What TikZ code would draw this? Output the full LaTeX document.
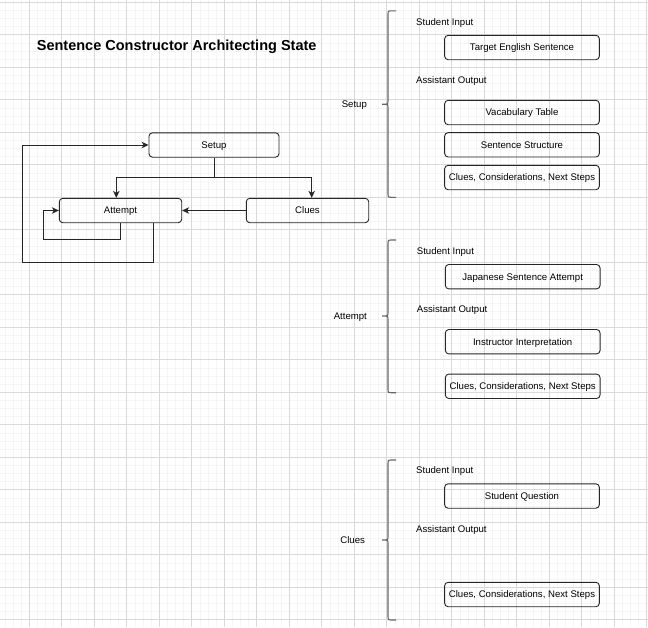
\documentclass[tikz,border=0pt]{standalone}
\usepackage{fontspec}
\setmainfont{Liberation Sans}
\usetikzlibrary{positioning,arrows.meta,calc}

\begin{document}
\begin{tikzpicture}[x=1pt,y=-1pt]

	\tikzset{minorgrid/.style={draw=black!4,line width=0.75pt}}
	\tikzset{majorgrid/.style={draw=black!15,line width=0.8pt}}
	\tikzset{statebox/.style={draw=black!85,rounded corners=3.5pt,line width=0.9pt,minimum width=122.4pt,minimum height=24.4pt,inner sep=0pt,font=\fontsize{9.6}{11}\selectfont,text height=6.9pt,text depth=0pt}}
	\tikzset{itembox/.style={statebox,minimum width=154.7pt}}
	\tikzset{labeltext/.style={inner sep=0pt,font=\fontsize{9.6}{11}\selectfont,text height=6.9pt,text depth=0pt}}
	\tikzset{flowedge/.style={-{Stealth[length=7pt,width=6.5pt,inset=2pt]},line width=1pt,draw=black!85}}
	\tikzset{bracestyle/.style={draw=black!60,line width=1.1pt}}

	\newcommand\drawBrace[3] % {top}{tip}{bottom}
	{
		\draw[bracestyle]
		(396,#1) -- (391,#1) .. controls (388,#1) .. (388,#1+3)
		-- (388,#2-3) .. controls (388,#2) .. (385,#2) -- (382,#2)
		(385,#2) .. controls (388,#2) .. (388,#2+3)
		-- (388,#3-3) .. controls (388,#3) .. (391,#3) -- (396,#3);
	}

	\useasboundingbox (0,0) rectangle (648,627);
	\fill[white] (0,0) rectangle (648,627);

	% grid
	\foreach \k in {0,...,79}
		\draw[minorgrid] (4.9+\k*8.125,0) -- (4.9+\k*8.125,627);
	\foreach \k in {0,...,76}
		\draw[minorgrid] (0,2.3+\k*8.125) -- (648,2.3+\k*8.125);
	\foreach \k in {0,...,19}
	{
		\draw[majorgrid] (29.3+\k*32.5,0) -- (29.3+\k*32.5,627);
		\draw[majorgrid] (0,2.3+\k*32.5) -- (648,2.3+\k*32.5);
	}

	\node[font=\fontsize{14.5}{17}\selectfont\bfseries,anchor=base west,inner sep=0pt] (title) at (36.7,50.7) {Sentence Constructor Architecting State};

	% state machine
	\node[statebox,minimum width=130pt] (setup) at (214,145) {Setup};
	\node[statebox] (attempt) at (120.5,210.5) {Attempt};
	\node[statebox] (clues) at (307.5,210.5) {Clues};

	\coordinate (split) at (214,177.3);
	\draw[flowedge] (setup.south) -- (split) -| ([xshift=-4.2pt]attempt.north);
	\draw[flowedge] (split) -| ([xshift=4.2pt]clues.north);
	\draw[flowedge] (clues.west) -- (attempt.east);
	\draw[flowedge] (attempt.south) |- (43.3,239) |- (attempt.west);
	\draw[flowedge] ([xshift=32.5pt]attempt.south) |- (22.3,262.7) |- (setup.west);

	% setup
	\drawBrace{10.8}{104.2}{197.3}
	\node[labeltext] (setupLabel) at (354.3,104.2) {Setup};
	\node[labeltext,anchor=west] (setupIn) at (416,22) {Student Input};
	\node[itembox] (targetSentence) at (522,47.5) {Target English Sentence};
	\node[labeltext,anchor=west] (setupOut) at (416,80) {Assistant Output};
	\node[itembox] (vocabTable) at (522,112.5) {Vacabulary Table};
	\node[itembox] (sentStructure) at (522,144.8) {Sentence Structure};
	\node[itembox] (setupClues) at (522,177.5) {Clues, Considerations, Next Steps};

	% attempt
	\drawBrace{240}{316}{392.7}
	\node[labeltext] (attemptLabel) at (350.3,316) {Attempt};
	\node[labeltext,anchor=west] (attemptIn) at (416.7,250.7) {Student Input};
	\node[itembox] (japAttempt) at (522.7,276.7) {Japanese Sentence Attempt};
	\node[labeltext,anchor=west] (attemptOut) at (416.7,309) {Assistant Output};
	\node[itembox] (instrInterp) at (522.7,341.7) {Instructor Interpretation};
	\node[itembox] (attemptClues) at (522.7,386.3) {Clues, Considerations, Next Steps};

	% clues
	\drawBrace{460}{540}{620}
	\node[labeltext] (cluesLabel) at (352.7,540) {Clues};
	\node[labeltext,anchor=west] (cluesIn) at (416,470) {Student Input};
	\node[itembox] (studQuestion) at (522,496) {Student Question};
	\node[labeltext,anchor=west] (cluesOut) at (416,529) {Assistant Output};
	\node[itembox] (cluesClues) at (522,594.5) {Clues, Considerations, Next Steps};

\end{tikzpicture}
\end{document}
